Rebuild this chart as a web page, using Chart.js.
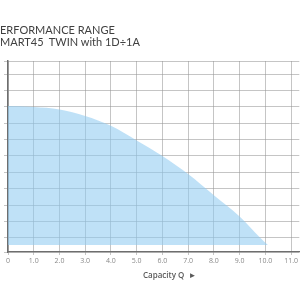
<!DOCTYPE html>
<html>
<head>
<meta charset="utf-8">
<script src="https://cdn.jsdelivr.net/npm/chart.js@4"></script>
<style>
  html,body{margin:0;padding:0;background:#fff;width:300px;height:300px;overflow:hidden;}
  #wrap{position:relative;width:300px;height:300px;}
  canvas{position:absolute;left:0;top:0;}
  .hd{position:absolute;left:0;font-family:Lato,"Open Sans",sans-serif;font-size:11px;color:#404040;white-space:pre;line-height:12px;}
  #xt{position:absolute;top:269px;left:143px;font-family:"Open Sans",Lato,sans-serif;font-size:8px;font-weight:600;color:#5a5a5a;white-space:pre;}
</style>
</head>
<body>
<div id="wrap">
  <canvas id="c" width="300" height="300"></canvas>
  <div class="hd" style="top:24px">ERFORMANCE RANGE</div>
  <div class="hd" style="top:36px">MART45  TWIN with 1D÷1A</div>
  <div id="xt">Capacity Q  ►</div>
</div>
<script>
// Data
const capacityQ = [0, 1, 2, 3, 4, 5, 6, 7, 8, 9, 9.8, 10.1];
const headH     = [8.05, 8.0, 7.85, 7.45, 6.85, 5.95, 5.0, 3.9, 2.6, 1.3, 0.0, -0.45];
const xTickValues = [0, 1, 2, 3, 4, 5, 6, 7, 8, 9, 10, 11];
const yGridValues = [0, 1, 2, 3, 4, 5, 6, 7, 8, 9, 10];
const xMin = 0, xMax = 11.32;
const yMin = -0.875, yMax = 10.81;
const fillBase = -0.45;

const points = capacityQ.map((q, i) => ({x: q, y: headH[i]}));

new Chart(document.getElementById('c'), {
  type: 'line',
  data: {
    datasets: [{
      data: points,
      borderWidth: 0,
      borderColor: 'rgba(0,0,0,0)',
      backgroundColor: 'rgba(145,203,242,0.58)',
      pointRadius: 0,
      cubicInterpolationMode: 'monotone',
      fill: {value: fillBase}
    }]
  },
  options: {
    responsive: false,
    animation: false,
    layout: {padding: {top: 61, left: 0, right: 0, bottom: 0}},
    plugins: {legend: {display: false}, tooltip: {enabled: false}},
    scales: {
      x: {
        type: 'linear',
        min: xMin, max: xMax,
        afterBuildTicks: s => { s.ticks = xTickValues.map(v => ({value: v})); },
        afterFit: s => { s.height = 48; },
        grid: {color: 'rgba(150,150,150,0.55)', lineWidth: 1, tickLength: 3, drawTicks: true},
        border: {display: true, color: '#6e6e6e', width: 1.2},
        ticks: {
          color: '#888', padding: 2, maxRotation: 0,
          font: {size: 7, family: 'Open Sans'},
          callback: v => v === 0 ? '0' : Number(v).toFixed(1)
        }
      },
      y: {
        type: 'linear',
        min: yMin, max: yMax,
        afterBuildTicks: s => { s.ticks = [yMin].concat(yGridValues, [yMax]).map(v => ({value: v})); },
        afterFit: s => { s.width = 8; },
        grid: {color: 'rgba(150,150,150,0.55)', lineWidth: 1, tickLength: 4, drawTicks: true},
        border: {display: true, color: '#6e6e6e', width: 1.5},
        ticks: {display: false}
      }
    }
  }
});
</script>
</body>
</html>
